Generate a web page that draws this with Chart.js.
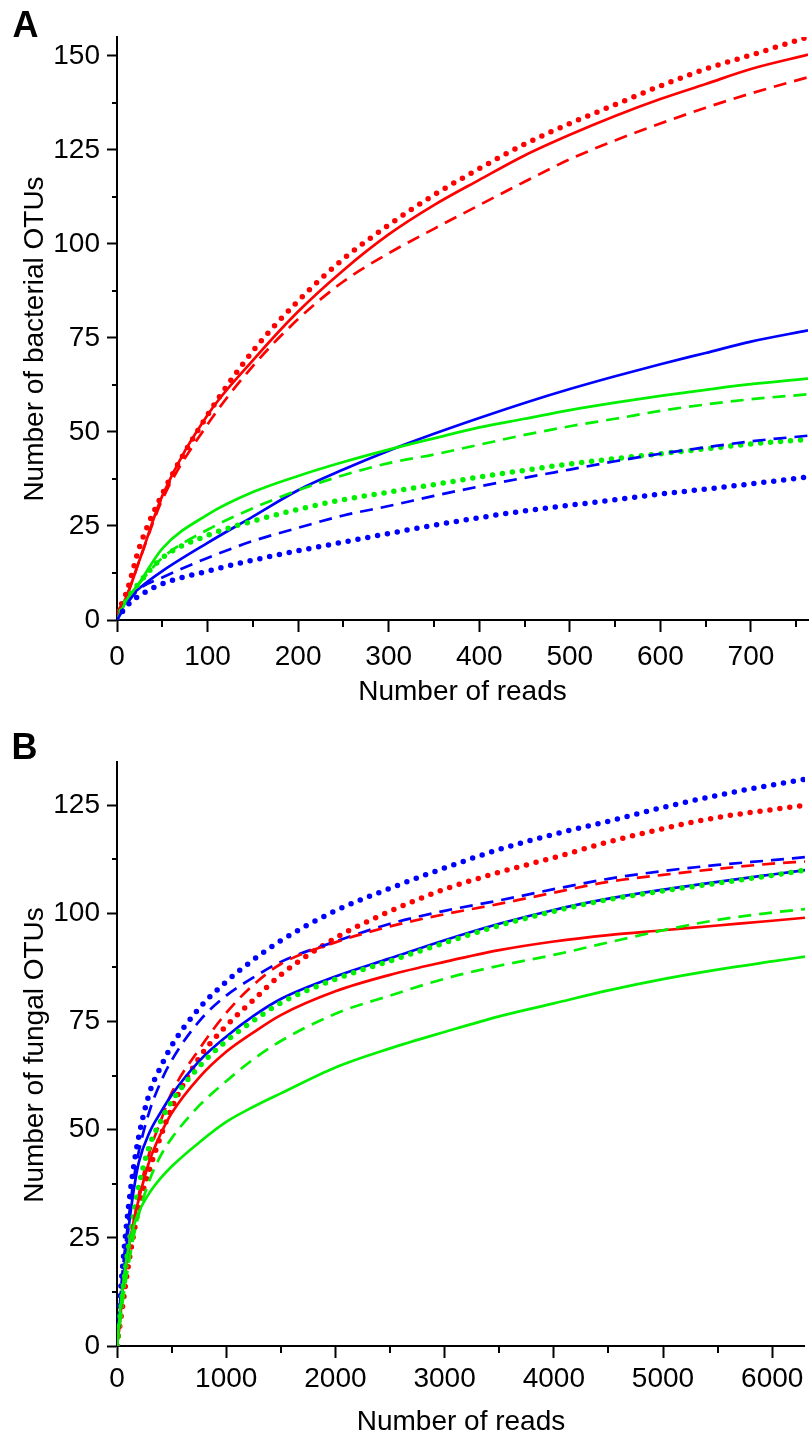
<!DOCTYPE html>
<html>
<head>
<meta charset="utf-8">
<script src="https://cdn.jsdelivr.net/npm/chart.js@4.4.1/dist/chart.umd.min.js"></script>
<style>
  html, body { margin: 0; padding: 0; background: #fff; }
  canvas { display: block; }
</style>
</head>
<body>
<canvas id="chartA" width="811" height="720"></canvas>
<canvas id="chartB" width="811" height="716"></canvas>
<script>
// ---------- Panel A: bacterial OTUs ----------
const readsA = [0, 10, 25, 50, 100, 150, 200, 250, 300, 350, 400, 450, 500, 550, 600, 650, 700, 763];
const bactRedSolid   = [2, 6, 16, 33, 54.5, 69, 82, 93, 102.5, 110.3, 117, 123.5, 129, 134, 138.5, 142.5, 146.5, 150.3];
const bactRedDotted  = [2, 7, 19.5, 33.5, 54.5, 71.5, 84.8, 96, 105, 113, 120, 126.5, 132, 137, 142, 146.5, 150.2, 155];
const bactRedDashed  = [2, 6, 16, 32, 52, 67.5, 80, 90, 97.5, 104, 110.3, 116.5, 122.5, 127.5, 132, 136.2, 140, 144.3];
const bactGreenSolid = [0, 5, 10, 19, 28, 34, 38.3, 42, 45.3, 48.3, 51.2, 53.5, 55.8, 57.8, 59.6, 61.2, 62.7, 64.2];
const bactGreenDashed= [0, 5, 9.8, 16.5, 24, 29.7, 34.5, 38.5, 41.7, 44, 46.6, 49.2, 51.5, 53.5, 55.6, 57.3, 58.7, 60];
const bactGreenDotted= [0, 5, 10, 16.5, 22.5, 26.3, 29.4, 32, 34, 36, 38, 39.8, 41.5, 42.9, 44.2, 45.5, 46.8, 48];
const bactBlueSolid  = [0, 5, 8.5, 13, 20.5, 27.5, 34.5, 40, 45, 49.5, 53.7, 57.7, 61.4, 64.8, 68, 71, 74, 77];
const bactBlueDashed = [0, 4, 8.3, 11.3, 16.5, 21, 24.5, 27.8, 30.3, 33, 35.5, 37.8, 40, 42.2, 44.2, 45.9, 47.5, 49];
const bactBlueDotted = [0, 3.5, 6.5, 9.6, 13, 15.9, 18.4, 20.7, 23, 25.2, 27.2, 29, 30.5, 32, 33.5, 34.8, 36.2, 38];

// ---------- Panel B: fungal OTUs ----------
const readsB = [0, 25, 50, 100, 150, 200, 300, 400, 500, 750, 1000, 1250, 1500, 2000, 2500, 3000, 3500, 4000, 4500, 5000, 5500, 6000, 6300];
const fungBlueDotted = [0, 10, 18, 31, 41, 48.5, 58.7, 64.5, 69.4, 78, 84.2, 89.3, 93.7, 100.6, 105.8, 110.5, 114.8, 118.3, 121.3, 124.5, 127.3, 129.7, 131];
const fungRedDotted  = [0, 4.5, 9, 18, 25.5, 32, 41, 48.5, 55, 66.5, 74, 80, 85.8, 94.3, 100.5, 105.6, 109.5, 112.9, 116.5, 119.6, 122.2, 124, 125];
const fungBlueDashed = [0, 9, 17, 28, 38, 45, 54.5, 61, 66, 75, 81, 85.2, 88.8, 93.5, 97.6, 100.6, 103, 105.6, 108, 109.8, 111.2, 112.3, 113];
const fungRedDashed  = [0, 6, 11, 20, 28, 35, 45, 52, 58.5, 68.5, 77, 83.5, 88.3, 93.3, 97, 99.8, 102.2, 104.8, 107.3, 108.9, 110.3, 111.5, 112];
const fungBlueSolid  = [0, 7.5, 14, 26, 35.5, 42.5, 49.5, 54, 58, 65.8, 71.5, 76.3, 80.2, 85.4, 89.6, 93.8, 97.6, 100.8, 103.4, 105.5, 107.3, 109, 110];
const fungGreenDotted= [0, 6, 12, 22, 30, 37, 46.5, 52, 56.5, 64.5, 70.5, 75.2, 79.3, 84.8, 89, 93.2, 97.2, 100.5, 103.2, 105.2, 107, 108.8, 110];
const fungRedSolid   = [0, 5, 12.5, 21.5, 28.5, 34, 43, 49, 53.8, 62, 68, 72.5, 76.5, 82, 85.8, 88.8, 91.5, 93.5, 95, 96.1, 97.2, 98.3, 99];
const fungGreenDashed= [0, 5, 10, 18, 25, 30.5, 38.5, 44, 48, 55.5, 61.2, 66.3, 70.5, 76.8, 81, 84.9, 87.9, 90.4, 93.3, 96.1, 98.5, 100.2, 101];
const fungGreenSolid = [0, 7, 13, 22, 27.5, 31, 35.5, 38.8, 41.5, 47, 51.8, 55.3, 58.4, 64.4, 68.8, 72.6, 76.2, 79.2, 82.2, 84.8, 87, 88.9, 90];

// ---------- Tick values (labelled ones are the multiples of the major step) ----------
const xTickValsA = [0, 50, 100, 150, 200, 250, 300, 350, 400, 450, 500, 550, 600, 650, 700, 750];
const yTickValsA = [0, 12.5, 25, 37.5, 50, 62.5, 75, 87.5, 100, 112.5, 125, 137.5, 150];
const xTickValsB = [0, 500, 1000, 1500, 2000, 2500, 3000, 3500, 4000, 4500, 5000, 5500, 6000];
const yTickValsB = [0, 12.5, 25, 37.5, 50, 62.5, 75, 87.5, 100, 112.5, 125];

const axisA = { xMax: 763, yMax: 155, xMajor: 100, yMajor: 25 };
const axisB = { xMax: 6300, yMax: 135, xMajor: 1000, yMajor: 25 };

const RED = '#ff0000', GREEN = '#00f000', BLUE = '#0000ff';
const FONT = "'Liberation Sans', Arial, Helvetica, sans-serif";

function pts(xs, ys) { return xs.map((x, i) => ({ x: x, y: ys[i] })); }

function ds(xs, ys, color, style) {
  const d = {
    data: pts(xs, ys),
    borderColor: color,
    backgroundColor: color,
    pointRadius: 0,
    fill: false,
    cubicInterpolationMode: 'monotone',
    borderJoinStyle: 'round'
  };
  if (style === 'solid') { d.borderWidth = 2.7; }
  else if (style === 'dashed') { d.borderWidth = 2.7; d.borderDash = [13, 8]; }
  else { d.borderWidth = 5.5; d.borderDash = [0, 10]; d.borderCapStyle = 'round'; }
  return d;
}

const isMajor = (v, step) => Math.abs(v / step - Math.round(v / step)) < 1e-6;

const decor = {
  id: 'decor',
  afterDraw(chart, args, o) {
    const ctx = chart.ctx;
    const xs = chart.scales.x, ys = chart.scales.y;
    ctx.save();
    ctx.strokeStyle = '#000';
    ctx.lineWidth = 2;
    ctx.lineCap = 'butt';
    xs.ticks.forEach(t => {
      if (!isMajor(t.value, o.xMajor)) {
        const px = Math.round(xs.getPixelForValue(t.value));
        ctx.beginPath(); ctx.moveTo(px, xs.top); ctx.lineTo(px, xs.top + 7); ctx.stroke();
      }
    });
    ys.ticks.forEach(t => {
      if (!isMajor(t.value, o.yMajor)) {
        const py = Math.round(ys.getPixelForValue(t.value));
        ctx.beginPath(); ctx.moveTo(ys.right, py); ctx.lineTo(ys.right - 5, py); ctx.stroke();
      }
    });
    ctx.fillStyle = '#000';
    // panel letter
    ctx.font = 'bold 36px ' + FONT;
    ctx.textBaseline = 'alphabetic';
    ctx.textAlign = 'left';
    ctx.fillText(o.label, o.lx, o.ly);
    // y-axis title
    ctx.font = '28px ' + FONT;
    ctx.textAlign = 'center';
    ctx.textBaseline = 'middle';
    ctx.translate(35, o.titleY);
    ctx.rotate(-Math.PI / 2);
    ctx.fillText(o.yTitle, 0, 0);
    ctx.restore();
  }
};

function makeChart(id, series, ax, xVals, yVals, cfg) {
  const majorColor = (step) => (c) => (c.tick && isMajor(c.tick.value, step)) ? '#000' : 'rgba(0,0,0,0)';
  return new Chart(document.getElementById(id), {
    type: 'line',
    data: { datasets: series },
    plugins: [decor],
    options: {
      responsive: false,
      devicePixelRatio: 1,
      animation: false,
      layout: { padding: { left: 0, right: 3, top: cfg.padTop, bottom: 0 } },
      plugins: {
        legend: { display: false },
        tooltip: { enabled: false },
        decor: { xMajor: ax.xMajor, yMajor: ax.yMajor, label: cfg.label, lx: cfg.lx, ly: cfg.ly, yTitle: cfg.yTitle, titleY: cfg.titleY }
      },
      scales: {
        x: {
          type: 'linear',
          min: 0, max: ax.xMax,
          afterBuildTicks: (s) => { s.ticks = xVals.map(v => ({ value: v })); },
          afterFit: (s) => { s.height = cfg.xAxisH; },
          border: { display: true, color: '#000', width: 2 },
          grid: { display: true, drawOnChartArea: false, drawTicks: true, tickLength: 12, tickWidth: 2, tickColor: majorColor(ax.xMajor) },
          ticks: {
            autoSkip: false, maxRotation: 0, minRotation: 0,
            padding: cfg.xTickPad, color: '#000',
            font: { family: FONT, size: 28, lineHeight: 1 },
            callback: (v) => (isMajor(v, ax.xMajor) ? String(v) : '')
          },
          title: { display: true, text: 'Number of reads', color: '#000', font: { family: FONT, size: 28, lineHeight: 1 }, padding: { top: 0, bottom: cfg.xTitlePad } }
        },
        y: {
          type: 'linear',
          min: 0, max: ax.yMax,
          afterBuildTicks: (s) => { s.ticks = yVals.map(v => ({ value: v })); },
          afterFit: (s) => { s.width = 117; },
          border: { display: true, color: '#000', width: 2 },
          grid: { display: true, drawOnChartArea: false, drawTicks: true, tickLength: 10, tickWidth: 2, tickColor: majorColor(ax.yMajor) },
          ticks: {
            autoSkip: false,
            padding: 7, color: '#000',
            font: { family: FONT, size: 28, lineHeight: 1 },
            callback: (v) => (isMajor(v, ax.yMajor) ? String(v) : '')
          },
          title: { display: false }
        }
      }
    }
  });
}

makeChart('chartA', [
  ds(readsA, bactBlueDotted, BLUE, 'dotted'),
  ds(readsA, bactBlueDashed, BLUE, 'dashed'),
  ds(readsA, bactGreenDotted, GREEN, 'dotted'),
  ds(readsA, bactGreenDashed, GREEN, 'dashed'),
  ds(readsA, bactGreenSolid, GREEN, 'solid'),
  ds(readsA, bactBlueSolid, BLUE, 'solid'),
  ds(readsA, bactRedDashed, RED, 'dashed'),
  ds(readsA, bactRedSolid, RED, 'solid'),
  ds(readsA, bactRedDotted, RED, 'dotted')
], axisA, xTickValsA, yTickValsA,
  { padTop: 37, xAxisH: 100, xTickPad: 11, xTitlePad: 14, label: 'A', lx: 12.5, ly: 37.3,
    yTitle: 'Number of bacterial OTUs', titleY: 339 });

makeChart('chartB', [
  ds(readsB, fungGreenSolid, GREEN, 'solid'),
  ds(readsB, fungGreenDashed, GREEN, 'dashed'),
  ds(readsB, fungRedSolid, RED, 'solid'),
  ds(readsB, fungGreenDotted, GREEN, 'dotted'),
  ds(readsB, fungBlueSolid, BLUE, 'solid'),
  ds(readsB, fungRedDashed, RED, 'dashed'),
  ds(readsB, fungBlueDashed, BLUE, 'dashed'),
  ds(readsB, fungRedDotted, RED, 'dotted'),
  ds(readsB, fungBlueDotted, BLUE, 'dotted')
], axisB, xTickValsB, yTickValsB,
  { padTop: 42, xAxisH: 90, xTickPad: 7.5, xTitlePad: 0, label: 'B', lx: 11.5, ly: 39.3,
    yTitle: 'Number of fungal OTUs', titleY: 335 });
</script>
</body>
</html>
